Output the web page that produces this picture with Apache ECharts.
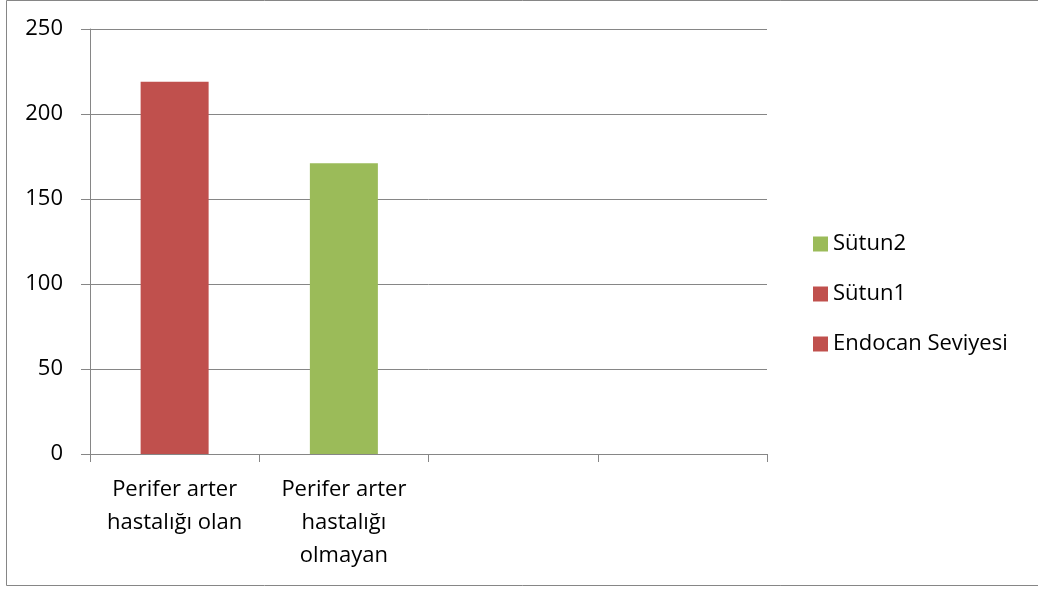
<!DOCTYPE html>
<html>
<head>
<meta charset="utf-8">
<script src="https://cdn.jsdelivr.net/npm/echarts@6/dist/echarts.min.js"></script>
<style>
  html, body { margin: 0; padding: 0; background: #fff; }
  #chart { width: 1038px; height: 590px; }
</style>
</head>
<body>
<div id="chart"></div>
<script>
// kategoriler (son ikisi boş)
var categories = ['Perifer arter\nhastalığı olan', 'Perifer arter\nhastalığı\nolmayan', '', ''];
// seriler
var endocan = [219, '-', '-', '-'];
var sutun1 = ['-', '-', '-', '-'];
var sutun2 = ['-', 171, '-', '-'];
var yTicks = [0, 50, 100, 150, 200, 250];

var gray = '#868686';
var font = 'Open Sans';

var chart = echarts.init(document.getElementById('chart'));
chart.setOption({
  animation: false,
  textStyle: { fontFamily: font },
  // dış çerçeve: sol, üst, alt
  graphic: [{
    type: 'polyline',
    shape: { points: [[1040, 0.5], [6.5, 0.5], [6.5, 585.5], [1040, 585.5]] },
    style: { fill: 'none', stroke: gray, lineWidth: 1 }
  }],
  grid: { left: 90, right: 271, top: 29, bottom: 136 },
  legend: {
    orient: 'vertical',
    left: 808,
    top: 225,
    itemWidth: 15,
    itemHeight: 15,
    itemGap: 22,
    icon: 'rect',
    data: ['Sütun2', 'Sütun1', 'Endocan Seviyesi'],
    textStyle: { fontSize: 22, lineHeight: 28, color: '#000', fontFamily: font }
  },
  xAxis: {
    type: 'category',
    data: categories,
    axisLine: { lineStyle: { color: gray, width: 1 } },
    axisTick: { show: true, length: 8, lineStyle: { color: gray } },
    axisLabel: {
      color: '#000', fontSize: 22, lineHeight: 33, margin: 19,
      fontFamily: font, interval: 0
    }
  },
  yAxis: {
    type: 'value',
    min: 0, max: yTicks[yTicks.length - 1], interval: 50,
    axisLine: { show: true, lineStyle: { color: gray, width: 1 } },
    axisTick: { show: true, length: 9, lineStyle: { color: gray } },
    splitLine: { lineStyle: { color: gray, width: 1 } },
    axisLabel: { color: '#000', fontSize: 22, margin: 27, fontFamily: font }
  },
  series: [
    { name: 'Endocan Seviyesi', type: 'bar', stack: 's', data: endocan, barWidth: 68,
      itemStyle: { color: '#C0504D' } },
    { name: 'Sütun1', type: 'bar', stack: 's', data: sutun1, barWidth: 68,
      itemStyle: { color: '#C0504D' } },
    { name: 'Sütun2', type: 'bar', stack: 's', data: sutun2, barWidth: 68,
      itemStyle: { color: '#9BBB59' } }
  ]
});
</script>
</body>
</html>
